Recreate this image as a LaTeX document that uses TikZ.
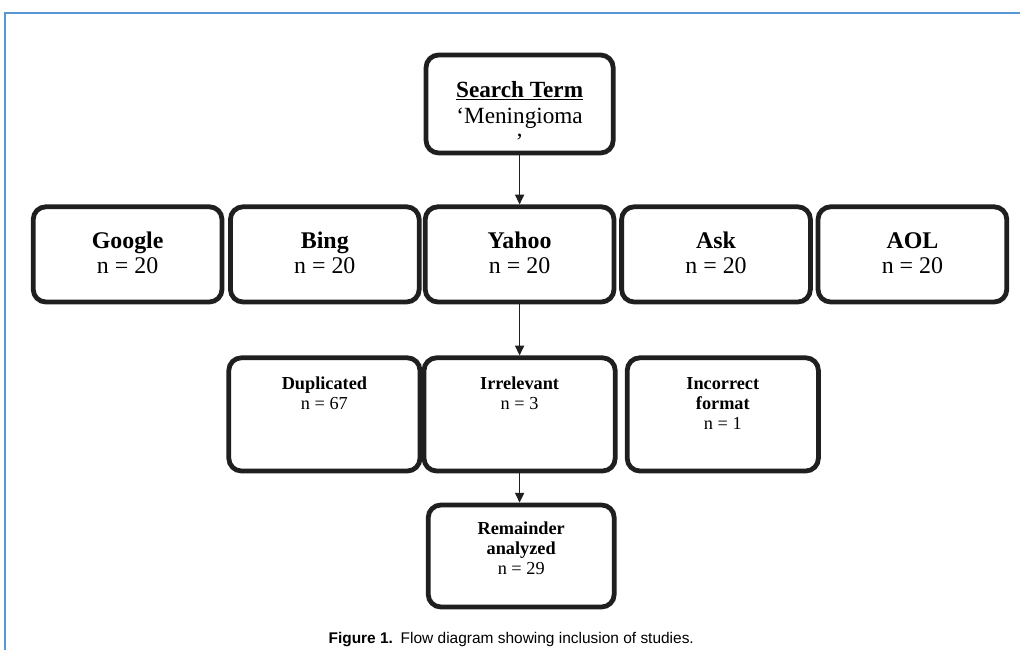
\documentclass[tikz,border=0pt]{standalone}
\usepackage{fontspec}
\setmainfont{Liberation Serif}
\newfontfamily\capfont{Liberation Sans}
\usepackage{xcolor}
\usetikzlibrary{arrows.meta, positioning}

\begin{document}
\begin{tikzpicture}[
    x=1cm, y=1cm,
    >=Triangle,
    every node/.style={align=center, text=black},
    box/.style={
      rectangle, rounded corners=9pt,
      draw=black!88, fill=white, line width=3.4pt
    },
    bigText/.style={font=\fontsize{17}{18}\selectfont},
    smallText/.style={font=\fontsize{13}{14.4}\selectfont},
    arr/.style={-{Triangle[length=7pt, width=6.5pt]}, draw=black!88, line width=1.1pt}
  ]
    \definecolor{frameBlue}{RGB}{88,150,214}
    \useasboundingbox (0,0) rectangle (25.5,16.25);

    % frame
    \draw[draw=frameBlue, line width=2pt] (0.125,0) -- (0.125,15.925) -- (25.5,15.925);

    % search term
    \node[box, minimum width=4.68cm, minimum height=2.45cm] (search) at (12.99,13.65) {};
    \node[font=\fontsize{16.5}{18.5}\selectfont] at (12.99,13.30) {\strut\textbf{\underline{Search Term}}\\‘Meningioma\\\strut’};

    % engines
    \node[box, minimum width=4.72cm, minimum height=2.38cm] (google) at (3.19,9.89) {};
    \node[bigText] at (3.19,9.85) {\strut\textbf{Google}\\\strut n = 20};
    \node[box, minimum width=4.72cm, minimum height=2.38cm] (bing) at (8.12,9.89) {};
    \node[bigText] at (8.12,9.85) {\strut\textbf{Bing}\\\strut n = 20};
    \node[box, minimum width=4.72cm, minimum height=2.38cm] (yahoo) at (12.99,9.89) {};
    \node[bigText] at (12.99,9.85) {\strut\textbf{Yahoo}\\\strut n = 20};
    \node[box, minimum width=4.72cm, minimum height=2.38cm] (ask) at (17.90,9.89) {};
    \node[bigText] at (17.90,9.85) {\strut\textbf{Ask}\\\strut n = 20};
    \node[box, minimum width=4.72cm, minimum height=2.38cm] (aol) at (22.81,9.89) {};
    \node[bigText] at (22.81,9.85) {\strut\textbf{AOL}\\\strut n = 20};

    % exclusions
    \node[box, minimum width=4.78cm, minimum height=2.83cm] (dup) at (8.11,5.89) {};
    \node[smallText, anchor=north] at (8.11,7.0) {\strut\textbf{Duplicated}\\n = 67};
    \node[box, minimum width=4.78cm, minimum height=2.83cm] (irr) at (12.99,5.89) {};
    \node[smallText, anchor=north] at (12.99,7.0) {\strut\textbf{Irrelevant}\\n = 3};
    \node[box, minimum width=4.78cm, minimum height=2.83cm] (inc) at (18.07,5.89) {};
    \node[smallText, anchor=north] at (18.07,7.0) {\strut\textbf{Incorrect}\\\textbf{format}\\n = 1};

    % remainder
    \node[box, minimum width=4.65cm, minimum height=2.55cm] (rem) at (13.03,2.35) {};
    \node[smallText] at (13.03,2.55) {\textbf{Remainder}\\\textbf{analyzed}\\n = 29};

    \draw[arr] (search.south) -- (yahoo.north);
    \draw[arr] (yahoo.south) -- (irr.north);
    \draw[arr] (irr.south) -- (irr.south |- rem.north);

    \node[font=\capfont\fontsize{11}{13}\selectfont] (caption) at (12.78,0.25) {\textbf{Figure 1.}\enspace Flow diagram showing inclusion of studies.};
  \end{tikzpicture}
\end{document}
